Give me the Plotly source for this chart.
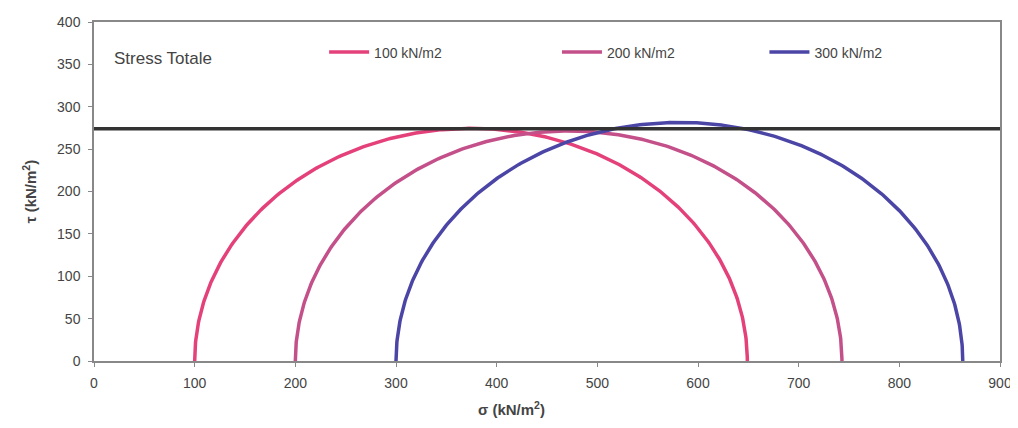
import numpy as np
import plotly.graph_objects as go

# Data: Mohr circles (minor and major principal stresses, kN/m2)
series_names = ["100 kN/m2", "200 kN/m2", "300 kN/m2"]
sigma3 = [100, 200, 300]
sigma1 = [649, 743, 863]
colors = ["#e4417a", "#c4508a", "#4b45a6"]
envelope_tau = 274
x_range = [0, 900]
y_range = [0, 400]
x_ticks = [0, 100, 200, 300, 400, 500, 600, 700, 800, 900]
y_ticks = [0, 50, 100, 150, 200, 250, 300, 350, 400]

legend_ids = ["legend", "legend2", "legend3"]
legend_x = [0.254, 0.511, 0.74]

fig = go.Figure()
theta = np.linspace(0, np.pi, 361)
for name, s3, s1, c, lg in zip(series_names, sigma3, sigma1, colors, legend_ids):
    center = (s1 + s3) / 2
    radius = (s1 - s3) / 2
    fig.add_trace(go.Scatter(
        x=center - radius * np.cos(theta),
        y=radius * np.sin(theta),
        mode="lines", name=name, legend=lg,
        line=dict(color=c, width=3.5),
    ))

fig.add_trace(go.Scatter(
    x=x_range, y=[envelope_tau, envelope_tau], mode="lines",
    line=dict(color="#333333", width=3.5), showlegend=False,
))

font_family = "Liberation Sans, Arial, sans-serif"
leg_common = dict(y=0.91, xanchor="left", yanchor="middle",
                  font=dict(size=14, color="#444444"),
                  bgcolor="rgba(0,0,0,0)", itemwidth=40)
layout_legends = {lg: dict(x=lx, **leg_common) for lg, lx in zip(legend_ids, legend_x)}

fig.update_layout(
    width=1010, height=420,
    margin=dict(l=86, r=18, t=14, b=67),
    paper_bgcolor="white", plot_bgcolor="white",
    font=dict(family=font_family, color="#444444", size=14),
    xaxis=dict(range=x_range, tickvals=x_ticks, showgrid=False, zeroline=False,
               showline=True, linecolor="#888888", linewidth=1.5, mirror=True,
               ticks="outside", ticklen=4, tickcolor="#888888", automargin=False,
               ticklabelstandoff=4),
    yaxis=dict(range=y_range, tickvals=y_ticks, showgrid=False, zeroline=False,
               showline=True, linecolor="#888888", linewidth=1.5, mirror=True,
               ticks="outside", ticklen=4, tickcolor="#888888", automargin=False,
               ticklabelstandoff=5),
    annotations=[
        dict(text="Stress Totale", xref="paper", yref="paper", x=0.02, y=0.893,
             xanchor="left", yanchor="middle", showarrow=False,
             font=dict(size=17, color="#444444")),
        dict(text="<b>σ (kN/m<sup>2</sup>)</b>", xref="paper", yref="paper",
             x=0.461, y=-0.14, xanchor="center", yanchor="middle", showarrow=False,
             font=dict(size=15, color="#444444")),
        dict(text="<b>τ (kN/m<sup>2</sup>)</b>", xref="paper", yref="paper",
             x=-0.071, y=0.5, xanchor="center", yanchor="middle", showarrow=False,
             textangle=-90, font=dict(size=15, color="#444444")),
    ],
    **layout_legends,
)

fig.write_html("out.html")
